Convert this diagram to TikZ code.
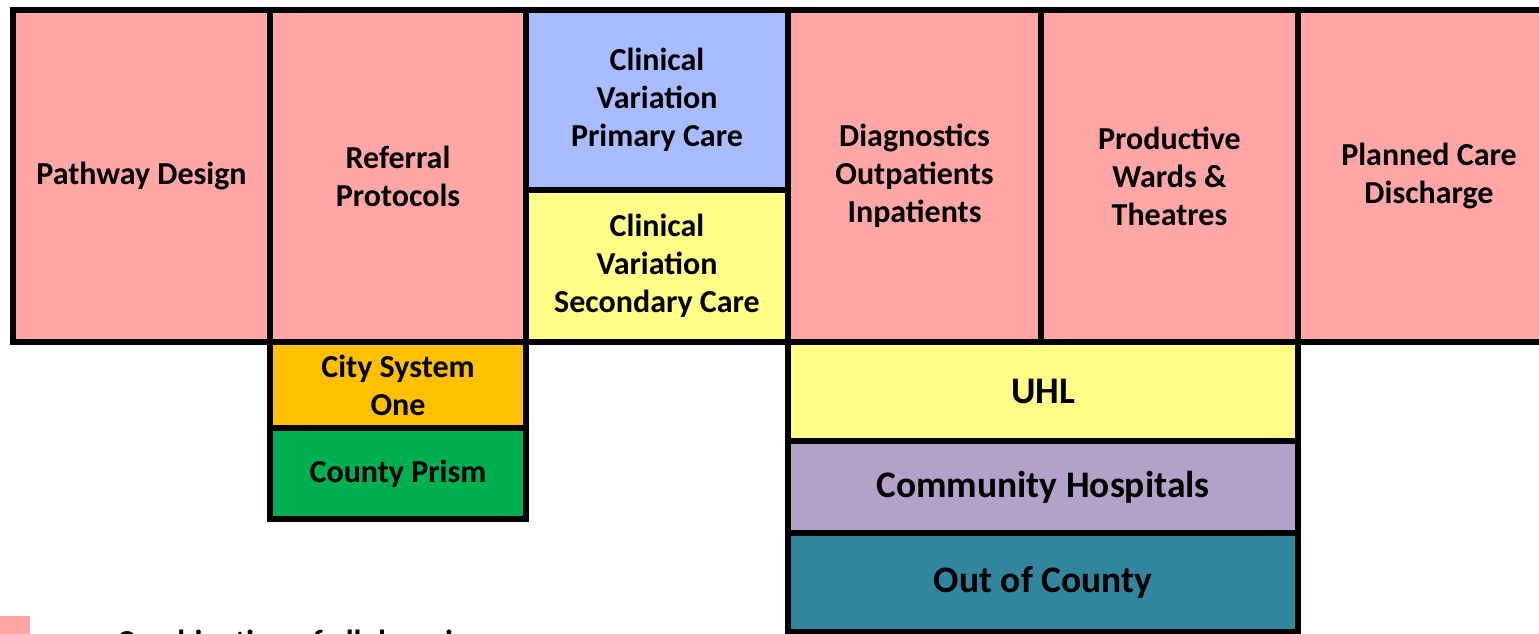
\documentclass[tikz,border=0pt]{standalone}
\usepackage{fontspec}
\setmainfont{Carlito}
\usetikzlibrary{positioning}
\definecolor{cellpink}{RGB}{255,167,167}
\definecolor{cellblue}{RGB}{169,188,255}
\definecolor{cellyellow}{RGB}{255,255,136}
\definecolor{cellorange}{RGB}{255,192,0}
\definecolor{cellgreen}{RGB}{0,176,80}
\definecolor{cellpurple}{RGB}{178,162,199}
\definecolor{cellteal}{RGB}{49,133,156}

\begin{document}
\begin{tikzpicture}[x=1pt,y=1pt]
      \tikzset{
        cell/.style={draw, rectangle, line width=5.5pt, inner sep=0pt, outer sep=0pt, align=center, font=\fontsize{32}{38}\selectfont\bfseries},
        domcell/.style={cell, fill=cellpink, minimum height=332pt},
        clincell/.style={cell, minimum width=262pt},
        syscell/.style={cell, minimum width=256pt},
        sitecell/.style={cell, minimum width=510pt, font=\fontsize{37.5}{44}\selectfont\bfseries},
        keybox/.style={fill=cellpink, minimum width=30pt, minimum height=24pt, inner sep=0pt},
      }
      \useasboundingbox (0,0) rectangle (1539,-634);
      \clip (0,0) rectangle (1539,-634);

      % top row of domains
      \node [domcell, minimum width=257pt, anchor=north west] (pathway) at (13,-10) {Pathway Design};
      \node [domcell, minimum width=256pt, right=0pt of pathway] (referral) {Referral\\Protocols};
      \node [clincell, fill=cellblue, minimum height=180pt, anchor=north west] (primary) at (referral.north east) {Clinical\\Variation\\Primary Care};
      \node [clincell, fill=cellyellow, minimum height=152pt, below=0pt of primary] (secondary) {Clinical\\Variation\\Secondary Care};
      \node [domcell, minimum width=253pt, anchor=north west] (diag) at (primary.north east) {Diagnostics\\Outpatients\\Inpatients};
      \node [domcell, minimum width=257pt, right=0pt of diag] (wards) {Productive\\Wards \&\\Theatres};
      \node [domcell, minimum width=262pt, right=0pt of wards] (discharge) {Planned Care\\Discharge};

      % systems under referral
      \node [syscell, fill=cellorange, minimum height=86pt, anchor=north west] (city) at (referral.south west) {City System\\One};
      \node [syscell, fill=cellgreen, minimum height=91pt, below=0pt of city] (prism) {County Prism};

      % sites under diagnostics and wards
      \node [sitecell, fill=cellyellow, minimum height=99pt, anchor=north west] (uhl) at (diag.south west) {UHL};
      \node [sitecell, fill=cellpurple, minimum height=92pt, below=0pt of uhl] (community) {Community Hospitals};
      \node [sitecell, fill=cellteal, minimum height=99pt, below=0pt of community] (outcounty) {Out of County};

      % legend
      \node [keybox, anchor=north west] (key) at (0,-616) {};
      \node [anchor=base west, font=\fontsize{32}{38}\selectfont\bfseries, inner sep=0pt] (keytext) at (117,-652) {Combination of all domains};
\end{tikzpicture}
\end{document}
